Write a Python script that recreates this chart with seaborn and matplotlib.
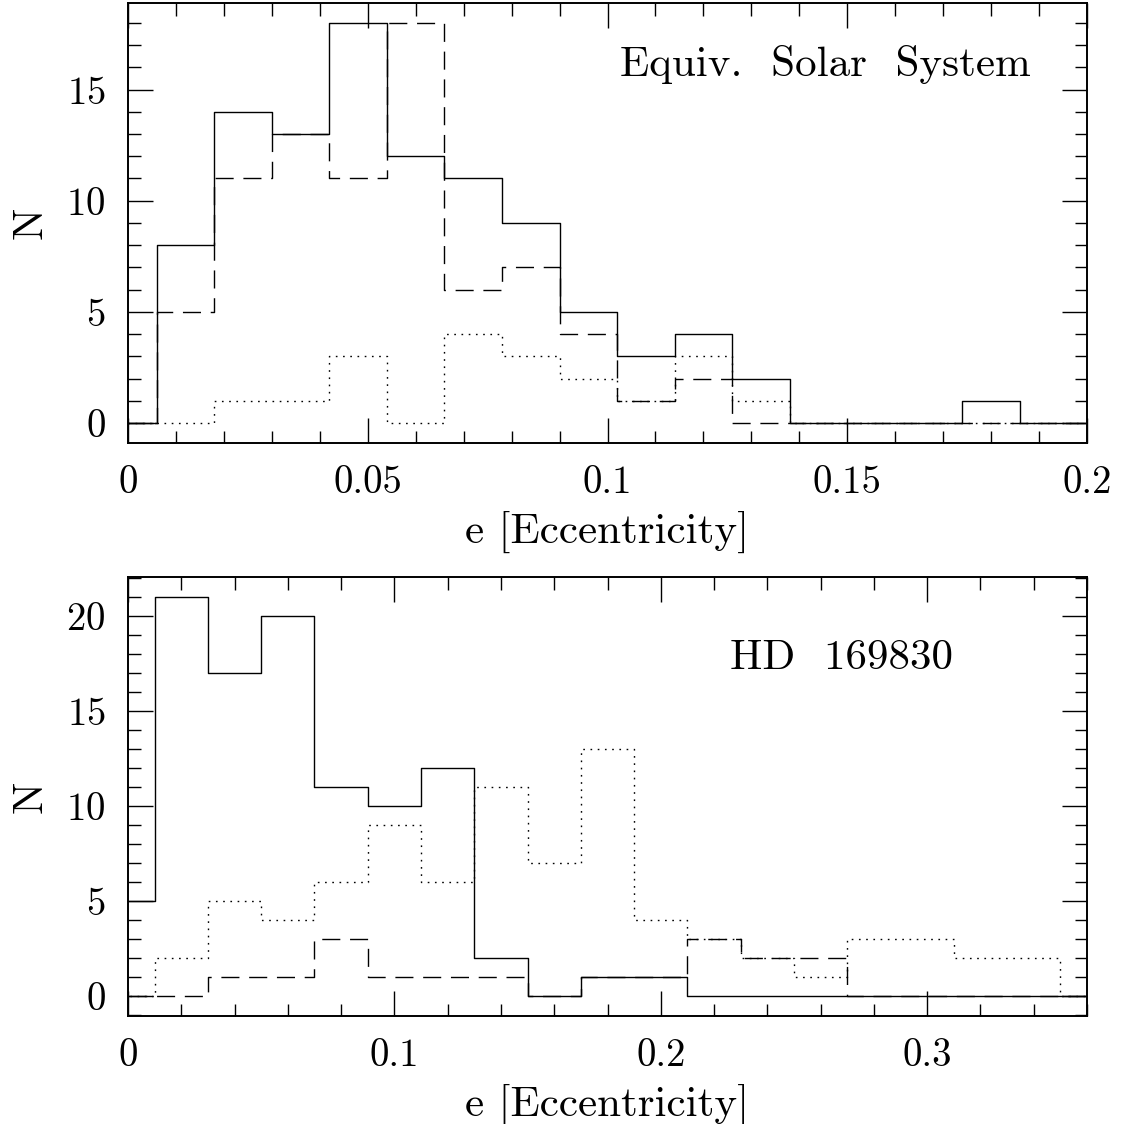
import numpy as np
import pandas as pd
import matplotlib
matplotlib.use("Agg")
import matplotlib.pyplot as plt
import seaborn as sns

# ---- Equivalent Solar System: counts per eccentricity bin (width 0.012, centred on multiples of 0.012)
ess_width = 0.012
ess_solid  = [0, 8, 14, 13, 18, 12, 11, 9, 5, 3, 4, 2, 0, 0, 0, 1, 0, 0]
ess_dashed = [0, 5, 11, 13, 11, 18, 6, 7, 4, 1, 2, 0, 0, 0, 0, 0, 0, 0]
ess_dotted = [0, 0, 1, 1, 3, 0, 4, 3, 2, 1, 3, 1, 0, 0, 0, 0, 0, 0]

# ---- HD 169830: counts per eccentricity bin (width 0.02, centred on multiples of 0.02)
hd_width = 0.02
hd_solid  = [5, 21, 17, 20, 11, 10, 12, 2, 0, 1, 1, 0, 0, 0, 0, 0, 0, 0, 0]
hd_dashed = [0, 0, 1, 1, 3, 1, 1, 1, 0, 1, 1, 3, 2, 2, 0, 0, 0, 0, 0]
hd_dotted = [0, 2, 5, 4, 6, 9, 6, 11, 7, 13, 4, 3, 2, 1, 3, 3, 2, 2, 0]

top_xticks = [0, 0.05, 0.1, 0.15, 0.2]
top_xticklabels = ["0", "0.05", "0.1", "0.15", "0.2"]
top_yticks = [0, 5, 10, 15]
bot_xticks = [0, 0.1, 0.2, 0.3]
bot_xticklabels = ["0", "0.1", "0.2", "0.3"]
bot_yticks = [0, 5, 10, 15, 20]

sns.set_theme(style="ticks")
plt.rcParams["font.family"] = ["cmr10", "DejaVu Serif"]
plt.rcParams["mathtext.fontset"] = "cm"
plt.rcParams["axes.formatter.use_mathtext"] = True
plt.rcParams["axes.unicode_minus"] = False

fig = plt.figure(figsize=(11.24, 11.24), dpi=100)
ax_top = fig.add_axes([0.1139, 0.6059, 0.8532, 0.3915])
ax_bot = fig.add_axes([0.1139, 0.0961, 0.8532, 0.3906])

styles = {
    "dotted": dict(linestyle=(0, (1.2, 4.0)), linewidth=1.0),
    "dashed": dict(linestyle=(0, (13, 7)), linewidth=1.0),
    "solid": dict(linestyle="-", linewidth=1.0),
}


def draw_panel(ax, width, series, xlim, ylim, xticks, xlabels, yticks,
               xminor, label, label_xy):
    n = len(series["solid"])
    centres = np.arange(n) * width
    edges = ((np.arange(n + 1) - 0.5) * width).tolist()
    for name in ["dotted", "dashed", "solid"]:
        df = pd.DataFrame({"e": centres, "N": series[name]})
        sns.histplot(data=df, x="e", weights="N", bins=edges,
                     element="step", fill=False, color="black",
                     ax=ax, **styles[name])
    ax.set_xlim(*xlim)
    ax.set_ylim(*ylim)
    ax.set_xticks(xticks)
    ax.set_xticklabels(xlabels)
    ax.set_yticks(yticks)
    ax.xaxis.set_minor_locator(matplotlib.ticker.MultipleLocator(xminor))
    ax.yaxis.set_minor_locator(matplotlib.ticker.MultipleLocator(1))
    ax.tick_params(which="both", direction="in", top=True, right=True,
                   bottom=True, left=True, width=1.0, color="black",
                   labelsize=28, pad=16, labelcolor="black")
    ax.tick_params(which="major", length=18)
    ax.tick_params(which="minor", length=9)
    for sp in ax.spines.values():
        sp.set_visible(True)
        sp.set_linewidth(1.4)
        sp.set_color("black")
    ax.set_xlabel("e [Eccentricity]", fontsize=31, labelpad=7, color="black")
    ax.set_ylabel("N", fontsize=31, labelpad=12, color="black")
    ax.text(label_xy[0], label_xy[1], label, transform=ax.transAxes,
            fontsize=31, ha="left", va="center", color="black")
    ax.set_facecolor("white")


draw_panel(ax_top, ess_width,
           {"solid": ess_solid, "dashed": ess_dashed, "dotted": ess_dotted},
           (0, 0.2), (-0.9, 18.9), top_xticks, top_xticklabels, top_yticks,
           0.01, "Equiv.  Solar  System", (0.513, 0.86))

draw_panel(ax_bot, hd_width,
           {"solid": hd_solid, "dashed": hd_dashed, "dotted": hd_dotted},
           (0, 0.36), (-1.05, 22.05), bot_xticks, bot_xticklabels, bot_yticks,
           0.02, "HD  169830", (0.628, 0.815))

fig.patch.set_facecolor("white")
fig.savefig("out.png", dpi=100, facecolor="white")
